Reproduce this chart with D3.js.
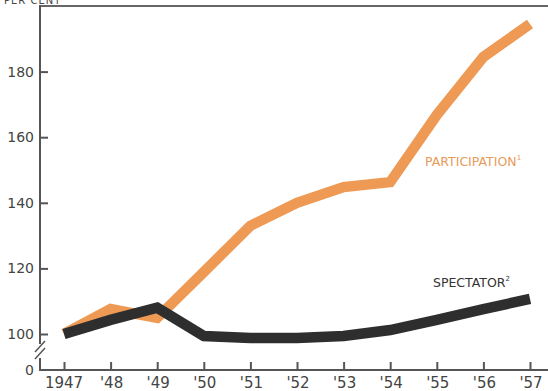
<!DOCTYPE html>
<html><head><meta charset="utf-8">
<script src="https://cdn.jsdelivr.net/npm/d3@7"></script>
<style>body{margin:0;background:#fff}svg{display:block}</style>
</head><body>
<svg id="c" width="548" height="391"></svg>
<script>
const years = [1947,1948,1949,1950,1951,1952,1953,1954,1955,1956,1957];
const yearLabels = ["1947","'48","'49","'50","'51","'52","'53","'54","'55","'56","'57"];
const participation = [100,107.6,104.9,118.9,133,140,144.8,146.3,166.8,184.5,194.5];
const spectator = [100,104.3,108,99.4,98.8,98.8,99.4,101.2,104.3,107.6,110.7];
const yTicks = [100,120,140,160,180];

const svg = d3.select("#c");
const x = d3.scalePoint().domain(years).range([64,530]);
const y = d3.scaleLinear().domain([100,200]).range([334,6]);
const axisColor = "#555", textColor = "#444";
const font = "DejaVu Sans";

// frame top
svg.append("line").attr("x1",40).attr("x2",548).attr("y1",y(200)).attr("y2",y(200)).attr("stroke","#666").attr("stroke-width",2);
// y axis (broken)
svg.append("line").attr("x1",40).attr("x2",40).attr("y1",y(200)-1).attr("y2",344).attr("stroke",axisColor).attr("stroke-width",2);
svg.append("line").attr("x1",40).attr("x2",40).attr("y1",358).attr("y2",371).attr("stroke",axisColor).attr("stroke-width",2);
svg.append("line").attr("x1",35).attr("x2",45).attr("y1",352).attr("y2",341).attr("stroke",axisColor).attr("stroke-width",1.5);
svg.append("line").attr("x1",35).attr("x2",45).attr("y1",359).attr("y2",348).attr("stroke",axisColor).attr("stroke-width",1.5);
// x axis
const baseY = 370;
svg.append("line").attr("x1",39).attr("x2",548).attr("y1",baseY).attr("y2",baseY).attr("stroke",axisColor).attr("stroke-width",2);

// y ticks via axis
const yAxis = d3.axisRight(y).tickValues(yTicks).tickSize(8).tickFormat("");
const gy = svg.append("g").attr("transform","translate(40,0)").call(yAxis);
gy.select(".domain").remove();
gy.selectAll("line").attr("stroke",axisColor).attr("stroke-width",2);
svg.selectAll(".ylab").data(yTicks).join("text").attr("class","ylab")
  .attr("x",34).attr("y",d=>y(d)+5).attr("text-anchor","end")
  .attr("font-family",font).attr("font-size",14).attr("fill",textColor).text(d=>d);
svg.append("text").attr("x",34).attr("y",baseY+5).attr("text-anchor","end")
  .attr("font-family",font).attr("font-size",14).attr("fill",textColor).text("0");
svg.append("text").attr("x",4).attr("y",4).attr("font-family",font).attr("font-size",10).attr("fill",textColor).attr("letter-spacing",1).text("PER CENT");

// x ticks via axis
const xAxis = d3.axisTop(x).tickSize(8).tickFormat("");
const gx = svg.append("g").attr("transform",`translate(0,${baseY})`).call(xAxis);
gx.select(".domain").remove();
gx.selectAll("line").attr("stroke",axisColor).attr("stroke-width",2);
svg.selectAll(".xlab").data(years).join("text").attr("class","xlab")
  .attr("x",(d,i)=>x(d)+(i===0?0:1)).attr("y",388).attr("text-anchor","middle")
  .attr("font-family",font).attr("font-size",15).attr("fill",textColor)
  .text((d,i)=>yearLabels[i]);

const line = d3.line().x((d,i)=>x(years[i])).y(d=>y(d));
svg.append("path").datum(participation).attr("d",line).attr("fill","none")
  .attr("stroke","#EE9A55").attr("stroke-width",10.5).attr("stroke-linejoin","miter");
svg.append("path").datum(spectator).attr("d",line).attr("fill","none")
  .attr("stroke","#2E2E2E").attr("stroke-width",10.5).attr("stroke-linejoin","miter");

const lp = svg.append("text").attr("x",425).attr("y",166).attr("font-family",font).attr("font-size",12.5).attr("fill","#E89A5A");
lp.append("tspan").text("PARTICIPATION");
lp.append("tspan").attr("dy",-6).attr("font-size",7).text("1");
const ls = svg.append("text").attr("x",433).attr("y",287).attr("font-family",font).attr("font-size",12.5).attr("fill","#333");
ls.append("tspan").text("SPECTATOR");
ls.append("tspan").attr("dy",-6).attr("font-size",7).text("2");
</script>
</body></html>
